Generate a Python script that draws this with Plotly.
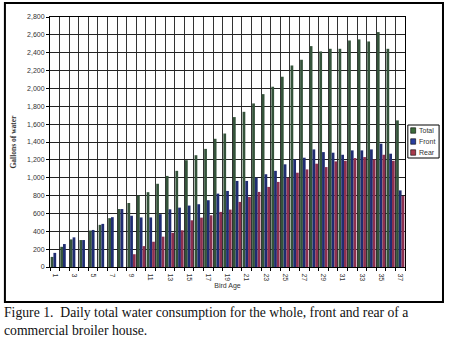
import plotly.graph_objects as go

days = list(range(1, 38))
total = [113, 226, 309, 302, 408, 472, 547, 649, 717, 800, 838, 932, 1020, 1077, 1196,
         1252, 1323, 1436, 1495, 1679, 1738, 1832, 1936, 2019, 2131, 2257, 2321, 2474,
         2414, 2444, 2444, 2537, 2549, 2526, 2631, 2444, 1642]
front = [158, 257, 332, 302, 415, 483, 558, 649, 574, 555, 555, 592, 646, 665, 688,
         703, 748, 822, 852, 964, 964, 1002, 1039, 1077, 1150, 1205, 1224, 1317, 1287,
         1280, 1257, 1306, 1306, 1317, 1381, 1269, 858]
rear = [0, 0, 0, 0, 0, 0, 0, 0, 143, 234, 283, 340, 383, 411, 523, 553, 579, 617, 643,
        729, 785, 841, 897, 953, 1000, 1056, 1093, 1157, 1119, 1183, 1190, 1220, 1231,
        1205, 1257, 1190, 795]
series_names = ["Total", "Front", "Rear"]
series_colors = ["#34533A", "#1F2C72", "#8C3050"]
swatch_colors = ["#3C6B3C", "#2B3FA0", "#A83A4C"]
x_tick_vals = list(range(1, 38, 2))
y_tick_vals = list(range(0, 2801, 200))

fig = go.Figure()
for name, vals, col in zip(series_names, [total, front, rear], series_colors):
    fig.add_trace(go.Bar(x=days, y=vals, name=name, marker_color=col,
                         marker_line_width=0, showlegend=False))

fig.update_layout(
    width=450, height=339,
    margin=dict(l=50, r=45, t=17, b=72),
    paper_bgcolor="white", plot_bgcolor="white",
    barmode="group", bargap=0.14, bargroupgap=0,
    font=dict(family="Liberation Sans, Arial", size=7, color="#333"),
)
fig.update_xaxes(
    range=[0.5, 37.5], tickmode="array", tickvals=x_tick_vals,
    ticktext=[str(v) for v in x_tick_vals], tickangle=90,
    showgrid=False, showline=True, linecolor="black", linewidth=1, mirror=True,
    minor=dict(tick0=0.5, dtick=1, showgrid=True, gridcolor="#333", gridwidth=1,
               ticks="outside", ticklen=3, tickcolor="black"),
    ticks="outside", ticklen=4, tickcolor="rgba(0,0,0,0)",
    title=dict(text="Bird Age", font=dict(size=7, color="#333"), standoff=2),
    tickfont=dict(size=7, color="#333"),
)
fig.update_yaxes(
    range=[0, 2800], tickmode="array", tickvals=y_tick_vals,
    ticktext=[f"{v:,}" for v in y_tick_vals],
    showgrid=True, gridcolor="#222", gridwidth=1,
    showline=True, linecolor="black", linewidth=1, mirror=True,
    ticks="outside", ticklen=3, tickcolor="black",
    tickfont=dict(size=7, color="#333"),
    title=dict(text="<b>Gallons of water</b>",
               font=dict(family="Liberation Serif, Times New Roman", size=7.5, color="#333"),
               standoff=9),
    zeroline=False,
)

# outer frame
fig.add_shape(type="rect", xref="paper", yref="paper",
              x0=-0.127, x1=1.107, y0=-0.14, y1=1.056,
              line=dict(color="black", width=2), fillcolor="rgba(0,0,0,0)", layer="below")

# legend box
fig.add_shape(type="rect", xref="paper", yref="paper",
              x0=1.008, x1=1.096, y0=0.436, y1=0.568,
              line=dict(color="black", width=1), fillcolor="white")
for i, (name, col) in enumerate(zip(series_names, swatch_colors)):
    yc = 0.546 - i * 0.044
    fig.add_shape(type="rect", xref="paper", yref="paper",
                  x0=1.016, x1=1.030, y0=yc - 0.011, y1=yc + 0.011,
                  line=dict(color="black", width=0.6), fillcolor=col)
    fig.add_annotation(xref="paper", yref="paper", x=1.034, y=yc, xanchor="left",
                       yanchor="middle", showarrow=False, text=name,
                       font=dict(size=7, color="#333"))

fig.add_annotation(
    xref="paper", yref="paper", x=-0.135, y=-0.145, xanchor="left", yanchor="top",
    align="left", showarrow=False,
    text="Figure 1.  Daily total water consumption for the whole, front and rear of a<br>commercial broiler house.",
    font=dict(family="Liberation Serif, Times New Roman", size=13.7, color="#111"),
)

fig.write_html("out.html")
